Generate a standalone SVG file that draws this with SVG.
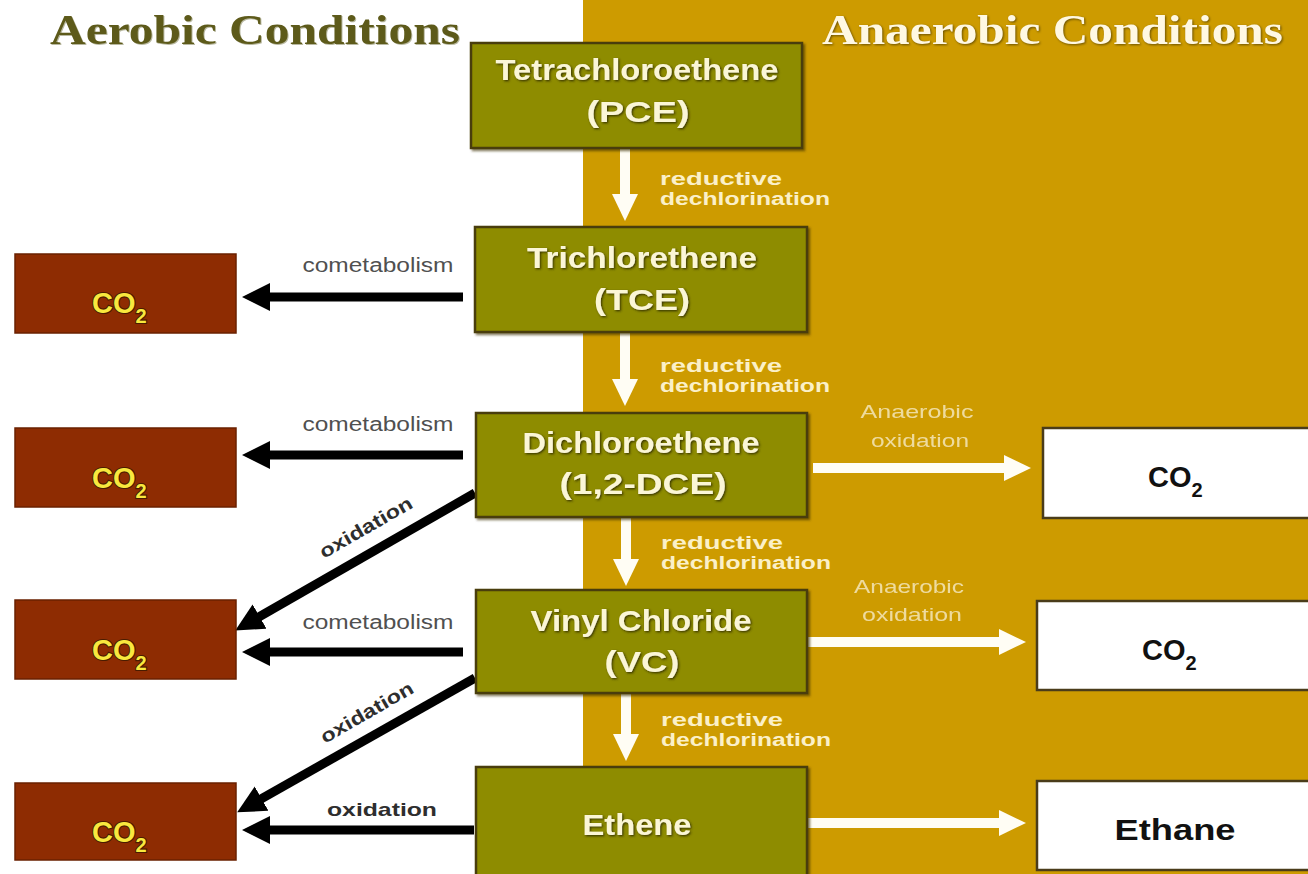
<svg xmlns="http://www.w3.org/2000/svg" width="1308" height="874" viewBox="0 0 1308 874">
<defs>
<style>
.hdr{font-family:"Liberation Serif","Times New Roman",serif;font-weight:bold;font-size:42px}
.ctr{font-family:"Liberation Sans",Arial,sans-serif;font-weight:bold;font-size:30px;fill:#fbf6d6;text-anchor:middle}
.olive{fill:#8e8c04;stroke:#4a3c0c;stroke-width:2.5}
.red{fill:#8e2c02;stroke:#6a2000;stroke-width:1.5}
.wbox{fill:#ffffff;stroke:#4a3c1a;stroke-width:2.5}
.co2y{font-family:"Liberation Sans",Arial,sans-serif;font-weight:bold;font-size:29px;fill:#f8e83e;stroke:#4a1c00;stroke-width:2.2;paint-order:stroke}
.sub{font-size:20px}
.co2k{font-family:"Liberation Sans",Arial,sans-serif;font-weight:bold;font-size:29px;fill:#111}
.red-lbl{font-family:"Liberation Sans",Arial,sans-serif;font-weight:bold;font-size:17.5px;fill:#fbf0c8}
.cometa{font-family:"Liberation Sans",Arial,sans-serif;font-size:20px;fill:#505050;text-anchor:middle}
.oxi{font-family:"Liberation Sans",Arial,sans-serif;font-weight:bold;font-size:19px;fill:#2e2e2e;text-anchor:middle}
.anox{font-family:"Liberation Sans",Arial,sans-serif;font-size:19px;fill:#f2e2b0;text-anchor:middle;opacity:0.9}
.blk{stroke:#000;stroke-width:9;fill:none}
.wht{stroke:#fffdf4;stroke-width:10;fill:none}
</style>
<marker id="mblk" markerWidth="28" markerHeight="28" refX="11" refY="14" orient="auto" markerUnits="userSpaceOnUse"><path d="M0,0 L28,14 L0,28 z" fill="#000"/></marker>
<marker id="mwht" markerWidth="27" markerHeight="26" refX="10" refY="13" orient="auto" markerUnits="userSpaceOnUse"><path d="M0,0 L27,13 L0,26 z" fill="#fffdf4"/></marker>
<filter id="tsh" x="-10%" y="-30%" width="120%" height="160%"><feDropShadow dx="1.2" dy="1.2" stdDeviation="0.8" flood-color="#2e2500" flood-opacity="0.9"/></filter>
<filter id="bsh" x="-5%" y="-5%" width="115%" height="115%"><feDropShadow dx="2" dy="2" stdDeviation="1.2" flood-color="#3a2a00" flood-opacity="0.6"/></filter>
</defs>

<rect x="0" y="0" width="1308" height="874" fill="#ffffff"/>
<rect x="583" y="0" width="725" height="874" fill="#cd9b00"/>

<g id="headers">
<text class="hdr" x="50" y="44" textLength="410" lengthAdjust="spacingAndGlyphs" fill="#5d5a1a" style="filter:drop-shadow(1px 1px 0.6px #b8b8a0)">Aerobic Conditions</text>
<text class="hdr" x="822" y="44" textLength="461" lengthAdjust="spacingAndGlyphs" fill="#fff8e2" style="filter:drop-shadow(1px 1px 0.8px #6a5000)">Anaerobic Conditions</text>
</g>

<g id="connectors">
<line class="wht" x1="625" y1="149" x2="625" y2="204" marker-end="url(#mwht)"/>
<line class="wht" x1="625" y1="333" x2="625" y2="389" marker-end="url(#mwht)"/>
<line class="wht" x1="626" y1="518" x2="626" y2="569" marker-end="url(#mwht)"/>
<line class="wht" x1="626" y1="694" x2="626" y2="744" marker-end="url(#mwht)"/>
<line class="wht" x1="813" y1="468" x2="1014" y2="468" stroke-width="9" marker-end="url(#mwht)"/>
<line class="wht" x1="808" y1="642" x2="1009" y2="642" stroke-width="9" marker-end="url(#mwht)"/>
<line class="wht" x1="806" y1="823" x2="1009" y2="823" stroke-width="9" marker-end="url(#mwht)"/>
<line class="blk" x1="463" y1="297" x2="259" y2="297" marker-end="url(#mblk)"/>
<line class="blk" x1="463" y1="455" x2="259" y2="455" marker-end="url(#mblk)"/>
<line class="blk" x1="463" y1="652" x2="259" y2="652" marker-end="url(#mblk)"/>
<line class="blk" x1="474" y1="830" x2="259" y2="830" marker-end="url(#mblk)"/>
<line class="blk" x1="475" y1="493" x2="250" y2="622" stroke-width="8" marker-end="url(#mblk)"/>
<line class="blk" x1="475" y1="678" x2="252" y2="804" stroke-width="8" marker-end="url(#mblk)"/>
<text class="red-lbl" x="660" y="185" textLength="122" lengthAdjust="spacingAndGlyphs">reductive</text>
<text class="red-lbl" x="660" y="205" textLength="170" lengthAdjust="spacingAndGlyphs">dechlorination</text>
<text class="red-lbl" x="660" y="372" textLength="122" lengthAdjust="spacingAndGlyphs">reductive</text>
<text class="red-lbl" x="660" y="392" textLength="170" lengthAdjust="spacingAndGlyphs">dechlorination</text>
<text class="red-lbl" x="661" y="549" textLength="122" lengthAdjust="spacingAndGlyphs">reductive</text>
<text class="red-lbl" x="661" y="569" textLength="170" lengthAdjust="spacingAndGlyphs">dechlorination</text>
<text class="red-lbl" x="661" y="726" textLength="122" lengthAdjust="spacingAndGlyphs">reductive</text>
<text class="red-lbl" x="661" y="746" textLength="170" lengthAdjust="spacingAndGlyphs">dechlorination</text>
<text class="anox" x="917" y="418" textLength="113" lengthAdjust="spacingAndGlyphs">Anaerobic</text>
<text class="anox" x="920" y="447" textLength="98" lengthAdjust="spacingAndGlyphs">oxidation</text>
<text class="anox" x="909" y="593" textLength="110" lengthAdjust="spacingAndGlyphs">Anaerobic</text>
<text class="anox" x="912" y="621" textLength="100" lengthAdjust="spacingAndGlyphs">oxidation</text>
<text class="cometa" x="378" y="272" textLength="151" lengthAdjust="spacingAndGlyphs">cometabolism</text>
<text class="cometa" x="378" y="431" textLength="151" lengthAdjust="spacingAndGlyphs">cometabolism</text>
<text class="cometa" x="378" y="629" textLength="151" lengthAdjust="spacingAndGlyphs">cometabolism</text>
<text class="oxi" x="382" y="816" textLength="110" lengthAdjust="spacingAndGlyphs">oxidation</text>
<text class="oxi" transform="translate(369 533) rotate(-30)" x="0" y="0" textLength="104" lengthAdjust="spacingAndGlyphs">oxidation</text>
<text class="oxi" transform="translate(370 718) rotate(-30)" x="0" y="0" textLength="104" lengthAdjust="spacingAndGlyphs">oxidation</text>
</g>

<g id="pce">
<rect class="olive" x="471" y="43" width="331" height="105" filter="url(#bsh)"/>
<text class="ctr" x="637" y="80" textLength="283" lengthAdjust="spacingAndGlyphs" filter="url(#tsh)">Tetrachloroethene</text>
<text class="ctr" x="638" y="122" textLength="103" lengthAdjust="spacingAndGlyphs" filter="url(#tsh)">(PCE)</text>
</g>
<g id="tce">
<rect class="olive" x="475" y="227" width="332" height="105" filter="url(#bsh)"/>
<text class="ctr" x="642" y="268" textLength="230" lengthAdjust="spacingAndGlyphs" filter="url(#tsh)">Trichlorethene</text>
<text class="ctr" x="642" y="310" textLength="96" lengthAdjust="spacingAndGlyphs" filter="url(#tsh)">(TCE)</text>
</g>
<g id="dce">
<rect class="olive" x="476" y="413" width="331" height="104" filter="url(#bsh)"/>
<text class="ctr" x="641" y="453" textLength="237" lengthAdjust="spacingAndGlyphs" filter="url(#tsh)">Dichloroethene</text>
<text class="ctr" x="643" y="494" textLength="167" lengthAdjust="spacingAndGlyphs" filter="url(#tsh)">(1,2-DCE)</text>
</g>
<g id="vc">
<rect class="olive" x="476" y="590" width="331" height="103" filter="url(#bsh)"/>
<text class="ctr" x="641" y="631" textLength="221" lengthAdjust="spacingAndGlyphs" filter="url(#tsh)">Vinyl Chloride</text>
<text class="ctr" x="642" y="672" textLength="75" lengthAdjust="spacingAndGlyphs" filter="url(#tsh)">(VC)</text>
</g>
<g id="ethene">
<rect class="olive" x="476" y="767" width="331" height="110" filter="url(#bsh)"/>
<text class="ctr" x="637" y="835" textLength="109" lengthAdjust="spacingAndGlyphs" filter="url(#tsh)">Ethene</text>
</g>

<g id="co2-aer-1">
<rect class="red" x="15" y="254" width="221" height="79"/>
<text class="co2y" x="92" y="313">CO<tspan class="sub" dy="10">2</tspan></text>
</g>
<g id="co2-aer-2">
<rect class="red" x="15" y="428" width="221" height="79"/>
<text class="co2y" x="92" y="488">CO<tspan class="sub" dy="10">2</tspan></text>
</g>
<g id="co2-aer-3">
<rect class="red" x="15" y="600" width="221" height="79"/>
<text class="co2y" x="92" y="660">CO<tspan class="sub" dy="10">2</tspan></text>
</g>
<g id="co2-aer-4">
<rect class="red" x="15" y="783" width="221" height="77"/>
<text class="co2y" x="92" y="842">CO<tspan class="sub" dy="10">2</tspan></text>
</g>

<g id="co2-anaer-1">
<rect class="wbox" x="1043" y="428" width="270" height="90"/>
<text class="co2k" x="1148" y="487">CO<tspan class="sub" font-size="19" dy="10">2</tspan></text>
</g>
<g id="co2-anaer-2">
<rect class="wbox" x="1037" y="601" width="276" height="89"/>
<text class="co2k" x="1142" y="660">CO<tspan class="sub" font-size="19" dy="10">2</tspan></text>
</g>
<g id="ethane">
<rect class="wbox" x="1037" y="781" width="276" height="89"/>
<text class="co2k" x="1175" y="840" text-anchor="middle" textLength="121" lengthAdjust="spacingAndGlyphs">Ethane</text>
</g>
</svg>
